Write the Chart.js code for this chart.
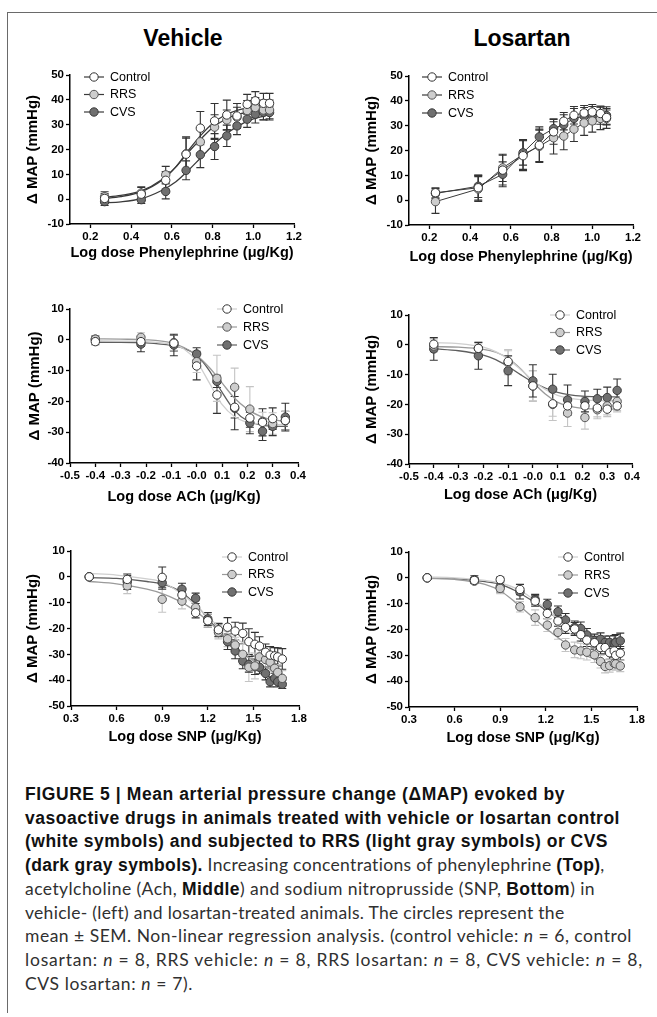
<!DOCTYPE html>
<html>
<head>
<meta charset="utf-8">
<script src="https://cdn.jsdelivr.net/npm/chart.js@4.4.1/dist/chart.umd.min.js"></script>
<style>
  html, body { margin: 0; padding: 0; background: #fff; width: 657px; height: 1017px; overflow: hidden; }
  body { position: relative; font-family: "Liberation Sans", Arial, sans-serif; }
  .frame { position: absolute; left: 7px; top: 12px; width: 700px; height: 1000px;
           border-top: 1.5px solid #6a6a6a; border-left: 1.5px solid #6a6a6a; }
  .head { position: absolute; top: 24px; width: 200px; text-align: center;
          font: bold 23px "Liberation Sans", Arial, sans-serif; color: #000; line-height: 28px; }
  canvas { position: absolute; }
  .cap { position: absolute; left: 25px; height: 24px; line-height: 24px; white-space: nowrap;
         font-family: "Lato", "Liberation Sans", sans-serif; font-weight: 400; font-size: 17.5px; color: #303030; }
  .cap b { font-family: "Liberation Sans", Arial, sans-serif; font-weight: bold; font-size: 17.5px; color: #111; }
  .cap i { font-style: italic; }
</style>
</head>
<body>
<div class="frame"></div>
<div class="head" style="left:83px">Vehicle</div>
<div class="head" style="left:422px">Losartan</div>

<canvas id="peVeh"></canvas>
<canvas id="peLos"></canvas>
<canvas id="achVeh"></canvas>
<canvas id="achLos"></canvas>
<canvas id="snpVeh"></canvas>
<canvas id="snpLos"></canvas>

<div class="cap" style="top:782px"><span><b>FIGURE 5 | Mean arterial pressure change (ΔMAP) evoked by</b></span></div>
<div class="cap" style="top:806px"><span><b>vasoactive drugs in animals treated with vehicle or losartan control</b></span></div>
<div class="cap" style="top:829px"><span><b>(white symbols) and subjected to RRS (light gray symbols) or CVS</b></span></div>
<div class="cap" style="top:853px"><span><b>(dark gray symbols).</b> Increasing concentrations of phenylephrine <b>(Top)</b>,</span></div>
<div class="cap" style="top:877px"><span>acetylcholine (Ach, <b>Middle</b>) and sodium nitroprusside (SNP, <b>Bottom</b>) in</span></div>
<div class="cap" style="top:901px"><span>vehicle- (left) and losartan-treated animals. The circles represent the</span></div>
<div class="cap" style="top:924px"><span>mean ± SEM. Non-linear regression analysis. (control vehicle: <i>n</i> = 6, control</span></div>
<div class="cap" style="top:948px"><span>losartan: <i>n</i> = 8, RRS vehicle: <i>n</i> = 8, RRS losartan: <i>n</i> = 8, CVS vehicle: <i>n</i> = 8,</span></div>
<div class="cap" style="top:972px"><span>CVS losartan: <i>n</i> = 7).</span></div>

<script>
// ---------- tick labels ----------
const peTicks = [0.2, 0.4, 0.6, 0.8, 1.0, 1.2];
const peTickLabels = ["0.2", "0.4", "0.6", "0.8", "1.0", "1.2"];
const achTicks = [-0.5, -0.4, -0.3, -0.2, -0.1, 0, 0.1, 0.2, 0.3, 0.4];
const achTickLabels = ["-0.5", "-0.4", "-0.3", "-0.2", "-0.1", "-0.0", "0.1", "0.2", "0.3", "0.4"];
const snpTicks = [0.3, 0.6, 0.9, 1.2, 1.5, 1.8];
const snpTickLabels = ["0.3", "0.6", "0.9", "1.2", "1.5", "1.8"];
const peYTicks = [-10, 0, 10, 20, 30, 40, 50];
const achYTicks = [-40, -30, -20, -10, 0, 10];
const snpYTicks = [-50, -40, -30, -20, -10, 0, 10];

// ---------- Phenylephrine, vehicle ----------
const peVehDose = [0.27, 0.45, 0.57, 0.67, 0.74, 0.81, 0.87, 0.92, 0.97, 1.01, 1.05, 1.08];
const peVehControl = [0.3, 2.0, 7.6, 18.1, 28.6, 31.5, 33.9, 33.5, 38.2, 39.6, 38.6, 38.6];
const peVehControlErr = [2.0, 2.7, 3.5, 6.5, 6.7, 7.0, 6.0, 5.0, 4.0, 3.7, 4.0, 4.0];
const peVehRRS = [1.0, 2.5, 9.8, 18.3, 23.1, 29.0, 31.9, 33.0, 35.7, 36.9, 35.9, 35.9];
const peVehRRSErr = [2.0, 2.5, 3.4, 6.8, 5.5, 5.0, 4.0, 4.0, 4.0, 4.0, 4.0, 4.0];
const peVehCVS = [-1.0, -0.2, 3.1, 11.6, 17.9, 21.2, 25.5, 29.5, 32.2, 34.2, 35.0, 34.9];
const peVehCVSErr = [1.5, 1.5, 3.0, 3.8, 5.2, 5.2, 4.3, 3.5, 3.3, 3.5, 3.0, 2.5];
const peVehFitX = [0.26, 0.35, 0.45, 0.55, 0.62, 0.68, 0.74, 0.80, 0.86, 0.92, 1.00, 1.08];
const peVehFitControl = [0.2, 1.0, 3.0, 7.5, 13.0, 19.5, 25.5, 30.5, 33.8, 35.8, 37.3, 37.9];
const peVehFitRRS = [0.7, 1.5, 3.3, 7.8, 13.0, 18.8, 24.0, 28.8, 32.0, 34.0, 35.5, 36.1];
const peVehFitCVS = [-1.5, -1.1, 0.2, 3.5, 7.0, 11.5, 16.5, 21.5, 25.8, 29.2, 32.3, 34.0];

// ---------- Phenylephrine, losartan ----------
const peLosDose = [0.23, 0.44, 0.56, 0.66, 0.74, 0.81, 0.86, 0.91, 0.96, 1.00, 1.04, 1.07];
const peLosControl = [3.0, 5.0, 12.1, 17.9, 22.1, 27.5, 31.8, 34.2, 35.1, 35.5, 34.9, 33.3];
const peLosControlErr = [2.0, 5.0, 6.0, 6.0, 6.5, 5.0, 3.5, 3.5, 3.0, 3.0, 3.0, 3.0];
const peLosRRS = [-0.6, 4.5, 13.0, 18.4, 21.7, 25.1, 25.8, 28.6, 31.1, 31.9, 32.9, 32.9];
const peLosRRSErr = [4.7, 5.0, 5.5, 6.0, 6.5, 6.5, 5.5, 5.0, 5.0, 4.5, 4.5, 4.0];
const peLosCVS = [2.7, 5.6, 10.4, 19.1, 25.5, 28.8, 30.4, 32.9, 33.8, 34.2, 34.1, 34.1];
const peLosCVSErr = [2.0, 4.5, 5.0, 5.0, 4.0, 4.0, 4.0, 4.0, 3.5, 3.5, 3.5, 3.5];

// ---------- Acetylcholine, vehicle ----------
const achVehDose = [-0.40, -0.22, -0.09, 0.0, 0.08, 0.15, 0.21, 0.26, 0.30, 0.35];
const achVehControl = [-0.6, -0.6, -1.1, -8.5, -17.9, -21.9, -25.4, -26.8, -25.6, -26.2];
const achVehControlErr = [1.0, 1.5, 2.5, 4.5, 6.0, 3.5, 3.0, 4.4, 3.5, 3.0];
const achVehRRS = [0.2, 0.8, -0.9, -7.1, -12.5, -15.4, -22.5, -26.5, -27.2, -26.3];
const achVehRRSErr = [1.0, 1.5, 2.5, 3.5, 7.5, 6.2, 7.3, 3.0, 3.5, 3.0];
const achVehCVS = [0.2, -1.4, -1.7, -4.6, -13.5, -22.2, -27.0, -29.7, -28.1, -25.1];
const achVehCVSErr = [1.0, 2.5, 3.5, 2.0, 2.0, 7.0, 3.5, 3.0, 3.0, 4.5];
const achVehFitX = [-0.4, -0.3, -0.2, -0.1, -0.05, 0.0, 0.05, 0.1, 0.15, 0.2, 0.25, 0.3, 0.36];
const achVehFitControl = [-0.3, -0.4, -0.6, -1.5, -3.0, -7.0, -14.0, -21.0, -25.0, -26.8, -27.3, -27.5, -27.6];
const achVehFitRRS = [0.3, 0.2, 0.0, -1.0, -2.5, -5.0, -9.0, -14.0, -19.0, -22.5, -24.8, -26.0, -26.5];
const achVehFitCVS = [-0.8, -0.8, -1.0, -1.8, -2.8, -5.0, -10.0, -17.0, -23.0, -26.3, -27.6, -28.0, -28.1];

// ---------- Acetylcholine, losartan ----------
const achLosDose = [-0.40, -0.22, -0.10, 0.0, 0.08, 0.14, 0.21, 0.26, 0.30, 0.34];
const achLosControl = [0.2, -1.2, -5.6, -13.8, -19.8, -20.5, -20.5, -21.2, -21.6, -20.5];
const achLosControlErr = [2.0, 1.5, 4.0, 5.0, 5.6, 3.0, 3.0, 3.0, 2.5, 2.0];
const achLosRRS = [-0.4, -1.2, -6.0, -13.8, -20.0, -22.9, -24.4, -21.8, -20.5, -19.0];
const achLosRRSErr = [2.0, 2.0, 4.0, 5.2, 4.0, 4.5, 3.9, 3.0, 3.0, 3.0];
const achLosCVS = [-1.4, -3.7, -8.7, -12.1, -14.9, -18.5, -19.0, -18.1, -17.7, -15.3];
const achLosCVSErr = [3.8, 4.5, 5.0, 5.4, 5.0, 5.0, 3.5, 3.2, 3.5, 3.8];
const achLosFitX = [-0.4, -0.3, -0.2, -0.15, -0.1, -0.05, 0.0, 0.05, 0.1, 0.15, 0.2, 0.27, 0.35];
const achLosFitControl = [0.7, 0.4, -0.8, -2.3, -4.8, -8.3, -12.0, -15.0, -17.0, -18.0, -18.5, -18.7, -18.8];
const achLosFitRRS = [-0.6, -0.8, -1.5, -2.5, -4.5, -8.0, -12.5, -16.5, -19.3, -20.7, -21.3, -21.5, -21.6];
const achLosFitCVS = [-1.3, -2.0, -3.5, -5.0, -7.3, -10.0, -12.5, -14.5, -16.0, -16.8, -17.2, -17.4, -17.5];

// ---------- SNP, vehicle ----------
const snpVehDose = [0.42, 0.67, 0.90, 1.03, 1.12, 1.20, 1.27, 1.33, 1.38, 1.43, 1.47, 1.51, 1.54, 1.58, 1.61, 1.64, 1.66, 1.69];
const snpVehControl = [0, -1.0, -0.2, -7.0, -13.9, -17.0, -20.5, -19.5, -21.0, -21.9, -25.1, -26.1, -26.8, -29.2, -30.3, -30.6, -31.0, -31.8];
const snpVehControlErr = [0.5, 1.5, 4.0, 2.5, 2.0, 2.5, 2.5, 3.7, 3.4, 4.0, 5.0, 4.6, 3.6, 3.2, 3.3, 3.2, 3.5, 4.0];
const snpVehRRS = [0, -3.5, -8.7, -9.4, -11.9, -17.0, -21.5, -24.0, -26.4, -30.0, -35.0, -34.5, -31.0, -32.0, -33.0, -35.4, -37.0, -39.3];
const snpVehRRSErr = [0.5, 3.0, 5.0, 3.0, 2.5, 2.5, 2.5, 3.0, 3.0, 4.0, 5.5, 5.0, 4.0, 3.5, 3.5, 3.0, 3.0, 3.0];
const snpVehCVS = [0, -1.9, -2.3, -4.8, -8.3, -16.3, -20.7, -25.1, -28.7, -32.6, -33.9, -34.8, -35.0, -37.4, -40.6, -39.3, -40.6, -41.6];
const snpVehCVSErr = [0.5, 3.0, 2.5, 2.3, 2.0, 2.5, 2.5, 3.0, 3.0, 3.0, 3.0, 3.0, 2.5, 2.5, 2.0, 2.0, 2.0, 1.6];
const snpVehFitX = [0.42, 0.6, 0.8, 0.9, 1.0, 1.1, 1.2, 1.3, 1.4, 1.5, 1.6, 1.69];
const snpVehFitControl = [1.3, 0.7, -0.8, -2.0, -5.5, -10.0, -15.5, -20.5, -24.5, -27.5, -29.3, -30.3];
const snpVehFitRRS = [-1.8, -2.7, -4.8, -6.5, -9.0, -12.5, -17.0, -22.5, -28.0, -32.5, -35.5, -37.5];
const snpVehFitCVS = [-0.3, -0.6, -1.8, -2.8, -5.0, -9.5, -16.0, -23.0, -30.0, -35.0, -38.5, -40.0];

// ---------- SNP, losartan ----------
const snpLosDose = [0.42, 0.73, 0.90, 1.03, 1.13, 1.21, 1.28, 1.33, 1.39, 1.43, 1.47, 1.52, 1.56, 1.59, 1.62, 1.65, 1.66, 1.69];
const snpLosControl = [0, -1.0, -0.7, -4.5, -9.0, -13.8, -16.7, -19.2, -19.8, -22.0, -24.1, -25.1, -27.0, -27.0, -29.0, -28.3, -30.0, -29.2];
const snpLosControlErr = [0.5, 1.0, 1.0, 2.0, 2.0, 2.0, 2.0, 2.3, 2.5, 2.5, 2.5, 2.5, 2.5, 2.5, 2.5, 2.5, 2.5, 2.6];
const snpLosRRS = [0, -1.3, -4.1, -11.2, -15.4, -18.3, -21.1, -26.0, -27.9, -28.3, -28.8, -29.8, -32.4, -34.3, -34.0, -33.1, -33.3, -34.1];
const snpLosRRSErr = [0.5, 1.0, 2.0, 2.0, 3.0, 2.5, 2.7, 2.5, 3.0, 3.0, 3.0, 3.0, 2.5, 2.5, 2.5, 2.5, 2.5, 2.2];
const snpLosCVS = [0, -0.7, -3.5, -5.4, -8.4, -10.3, -13.1, -16.3, -19.2, -19.6, -22.1, -24.3, -23.8, -25.0, -25.0, -25.3, -25.0, -24.4];
const snpLosCVSErr = [0.5, 1.5, 2.0, 2.8, 2.0, 2.0, 2.2, 2.5, 2.5, 2.5, 2.5, 2.5, 2.5, 2.5, 2.5, 3.0, 3.0, 3.0];
const snpLosFitX = [0.42, 0.6, 0.8, 0.9, 1.0, 1.1, 1.2, 1.3, 1.4, 1.5, 1.6, 1.69];
const snpLosFitControl = [0.3, 0.0, -1.0, -2.0, -4.0, -7.5, -12.0, -17.0, -21.5, -25.0, -27.5, -28.8];
const snpLosFitRRS = [-0.2, -0.6, -2.5, -5.0, -9.5, -14.5, -19.5, -24.0, -28.0, -31.0, -33.0, -34.0];
const snpLosFitCVS = [0.0, -0.3, -1.5, -2.5, -5.0, -8.5, -12.5, -16.5, -20.0, -22.5, -24.2, -25.0];

// ---------- look ----------
const FONT = '"Liberation Sans", Arial, sans-serif';
Chart.defaults.font.family = FONT;
Chart.defaults.color = "#000";

const groupNames = ["Control", "RRS", "CVS"];
const pointFill = { Control: "#ffffff", RRS: "#cdcdcd", CVS: "#707070" };
const pointEdge = { Control: "#333333", RRS: "#555555", CVS: "#3a3a3a" };
const fitColorGray = { Control: "#cfcfcf", RRS: "#9a9a9a", CVS: "#5e5e5e" };
const fitColorDark = { Control: "#3a3a3a", RRS: "#3a3a3a", CVS: "#3a3a3a" };

const pairs = (xs, ys) => xs.map((x, i) => ({ x: x, y: ys[i] }));

// error bars behind the symbols
const errorBars = {
    id: "errorBars",
    beforeDatasetsDraw(chart) {
        const ctx = chart.ctx;
        const xs = chart.scales.x, ys = chart.scales.y;
        const area = chart.chartArea;
        ctx.save();
        ctx.beginPath();
        ctx.rect(area.left - 6, area.top - 6, area.right - area.left + 12, area.bottom - area.top + 6);
        ctx.clip();
        chart.data.datasets.forEach((d) => {
            if (!d.err) return;
            ctx.strokeStyle = d.errColor;
            ctx.lineWidth = 1.1;
            d.data.forEach((p, j) => {
                const px = xs.getPixelForValue(p.x);
                const top = ys.getPixelForValue(p.y + d.err[j]);
                const bot = ys.getPixelForValue(p.y - d.err[j]);
                ctx.beginPath();
                ctx.moveTo(px, top); ctx.lineTo(px, bot);
                ctx.moveTo(px - 4, top); ctx.lineTo(px + 4, top);
                ctx.moveTo(px - 4, bot); ctx.lineTo(px + 4, bot);
                ctx.stroke();
            });
        });
        ctx.restore();
    },
};

// GraphPad style legend sitting inside the plot
const insetLegend = {
    id: "insetLegend",
    afterDraw(chart, args, o) {
        const ctx = chart.ctx, a = chart.chartArea;
        chart.data.datasets.filter((d) => d.legendLine).forEach((d, i) => {
            const cx = a.left + o.x, cy = a.top + o.y + i * o.gap;
            ctx.save();
            ctx.strokeStyle = d.legendLine;
            ctx.lineWidth = 1.2;
            ctx.beginPath(); ctx.moveTo(cx - 10, cy); ctx.lineTo(cx + 10, cy); ctx.stroke();
            ctx.beginPath(); ctx.arc(cx, cy, 4.2, 0, Math.PI * 2);
            ctx.fillStyle = d.pointBackgroundColor; ctx.fill();
            ctx.lineWidth = 1; ctx.strokeStyle = d.pointBorderColor; ctx.stroke();
            ctx.fillStyle = "#000";
            ctx.font = "12.5px " + FONT;
            ctx.textBaseline = "middle";
            ctx.fillText(d.label, cx + 16, cy + 0.5);
            ctx.restore();
        });
    },
};

function makePanel(p) {
    const YW = 60, TOP = 15, RIGHT = 20, XH = 48;
    const cv = document.getElementById(p.id);
    const w = p.box.right - p.box.left + YW + RIGHT;
    const h = p.box.bottom - p.box.top + TOP + XH;
    cv.width = w; cv.height = h;
    cv.style.left = (p.box.left - YW) + "px";
    cv.style.top = (p.box.top - TOP) + "px";
    cv.style.width = w + "px"; cv.style.height = h + "px";

    const datasets = [];
    groupNames.forEach((g, k) => {
        if (p.fitX) {
            datasets.push({
                label: g + " fit",
                data: pairs(p.fitX, p.fits[k]),
                showLine: true,
                borderColor: p.fitColors[g],
                borderWidth: 1.3,
                pointRadius: 0,
                cubicInterpolationMode: "monotone",
                order: 2,
            });
        }
    });
    groupNames.forEach((g, k) => {
        datasets.push({
            label: g,
            data: pairs(p.dose, p.means[k]),
            err: p.errs[k],
            errColor: p.errColors[k],
            legendLine: p.fitColors[g],
            showLine: !p.fitX,
            borderColor: p.fitColors[g],
            borderWidth: 1,
            pointRadius: 4.2,
            pointBorderWidth: 1,
            pointBackgroundColor: pointFill[g],
            pointBorderColor: pointEdge[g],
            order: 1,
        });
    });

    const tickFont = { size: 11.5, weight: "bold" };
    new Chart(cv, {
        type: "scatter",
        data: { datasets: datasets },
        plugins: [errorBars, insetLegend],
        options: {
            responsive: false,
            animation: false,
            events: [],
            layout: { padding: { left: 0, top: TOP, right: RIGHT, bottom: 0 } },
            plugins: {
                legend: { display: false },
                tooltip: { enabled: false },
                insetLegend: p.legend,
            },
            scales: {
                x: {
                    type: "linear",
                    min: p.xMin, max: p.xMax,
                    afterBuildTicks: (s) => { s.ticks = p.xTicks.map((v) => ({ value: v })); },
                    afterFit: (s) => { s.height = XH; },
                    ticks: {
                        autoSkip: false, maxRotation: 0, padding: 2, font: tickFont, color: "#000",
                        callback: (v, i) => p.xLabels[i],
                    },
                    grid: { drawOnChartArea: false, drawTicks: true, tickLength: 4, tickColor: "#000", tickWidth: 1.3 },
                    border: { color: "#000", width: 1.5 },
                    title: {
                        display: true, text: p.xTitle, color: "#000",
                        font: { size: 14.5, weight: "bold" },
                        padding: { top: 0, bottom: 39.3 - p.xTitleGap },
                    },
                },
                y: {
                    type: "linear",
                    min: p.yTicks[0], max: p.yTicks[p.yTicks.length - 1],
                    afterBuildTicks: (s) => { s.ticks = p.yTicks.map((v) => ({ value: v })); },
                    afterFit: (s) => { s.width = YW; },
                    ticks: { padding: 2, font: tickFont, color: "#000", callback: (v) => String(v) },
                    grid: { drawOnChartArea: false, drawTicks: true, tickLength: 4, tickColor: "#000", tickWidth: 1.3 },
                    border: { color: "#000", width: 1.5 },
                    title: {
                        display: true, text: "Δ MAP (mmHg)", color: "#000",
                        font: { size: 15, weight: "bold" },
                        padding: { top: YW - p.yTitleGap - 9, bottom: 0 },
                    },
                },
            },
        },
    });
}

const peTitle = "Log dose Phenylephrine (μg/Kg)";
const achTitle = "Log dose ACh (μg/Kg)";
const snpTitle = "Log dose SNP (μg/Kg)";

makePanel({
    id: "peVeh", box: { left: 70, right: 294, top: 75, bottom: 224 },
    xMin: 0.1, xMax: 1.2, xTicks: peTicks, xLabels: peTickLabels, yTicks: peYTicks,
    xTitle: peTitle, xTitleGap: 29, yTitleGap: 37,
    dose: peVehDose,
    means: [peVehControl, peVehRRS, peVehCVS],
    errs: [peVehControlErr, peVehRRSErr, peVehCVSErr],
    errColors: ["#333", "#333", "#333"],
    fitX: peVehFitX, fits: [peVehFitControl, peVehFitRRS, peVehFitCVS],
    fitColors: fitColorDark,
    legend: { x: 24, y: 2, gap: 17.5 },
});

makePanel({
    id: "peLos", box: { left: 409, right: 633, top: 76, bottom: 225 },
    xMin: 0.1, xMax: 1.2, xTicks: peTicks, xLabels: peTickLabels, yTicks: peYTicks,
    xTitle: peTitle, xTitleGap: 32, yTitleGap: 37,
    dose: peLosDose,
    means: [peLosControl, peLosRRS, peLosCVS],
    errs: [peLosControlErr, peLosRRSErr, peLosCVSErr],
    errColors: ["#333", "#333", "#333"],
    fitX: null, fits: null,
    fitColors: fitColorDark,
    legend: { x: 23, y: 1, gap: 18 },
});

makePanel({
    id: "achVeh", box: { left: 70, right: 298, top: 309, bottom: 463 },
    xMin: -0.5, xMax: 0.4, xTicks: achTicks, xLabels: achTickLabels, yTicks: achYTicks,
    xTitle: achTitle, xTitleGap: 34, yTitleGap: 35,
    dose: achVehDose,
    means: [achVehControl, achVehRRS, achVehCVS],
    errs: [achVehControlErr, achVehRRSErr, achVehCVSErr],
    errColors: ["#333", "#c4c4c4", "#333"],
    fitX: achVehFitX, fits: [achVehFitControl, achVehFitRRS, achVehFitCVS],
    fitColors: fitColorGray,
    legend: { x: 157, y: 0, gap: 18 },
});

makePanel({
    id: "achLos", box: { left: 409, right: 632, top: 315, bottom: 464 },
    xMin: -0.5, xMax: 0.4, xTicks: achTicks, xLabels: achTickLabels, yTicks: achYTicks,
    xTitle: achTitle, xTitleGap: 31, yTitleGap: 37,
    dose: achLosDose,
    means: [achLosControl, achLosRRS, achLosCVS],
    errs: [achLosControlErr, achLosRRSErr, achLosCVSErr],
    errColors: ["#c4c4c4", "#c4c4c4", "#333"],
    fitX: achLosFitX, fits: [achLosFitControl, achLosFitRRS, achLosFitCVS],
    fitColors: fitColorGray,
    legend: { x: 151, y: 0, gap: 17.5 },
});

makePanel({
    id: "snpVeh", box: { left: 71, right: 299, top: 551, bottom: 706 },
    xMin: 0.3, xMax: 1.8, xTicks: snpTicks, xLabels: snpTickLabels, yTicks: snpYTicks,
    xTitle: snpTitle, xTitleGap: 31, yTitleGap: 38,
    dose: snpVehDose,
    means: [snpVehControl, snpVehRRS, snpVehCVS],
    errs: [snpVehControlErr, snpVehRRSErr, snpVehCVSErr],
    errColors: ["#333", "#c4c4c4", "#333"],
    fitX: snpVehFitX, fits: [snpVehFitControl, snpVehFitRRS, snpVehFitCVS],
    fitColors: fitColorGray,
    legend: { x: 161, y: 6, gap: 17.5 },
});

makePanel({
    id: "snpLos", box: { left: 409, right: 637, top: 552, bottom: 707 },
    xMin: 0.3, xMax: 1.8, xTicks: snpTicks, xLabels: snpTickLabels, yTicks: snpYTicks,
    xTitle: snpTitle, xTitleGap: 31, yTitleGap: 37,
    dose: snpLosDose,
    means: [snpLosControl, snpLosRRS, snpLosCVS],
    errs: [snpLosControlErr, snpLosRRSErr, snpLosCVSErr],
    errColors: ["#333", "#c4c4c4", "#333"],
    fitX: snpLosFitX, fits: [snpLosFitControl, snpLosFitRRS, snpLosFitCVS],
    fitColors: fitColorGray,
    legend: { x: 159, y: 5, gap: 18 },
});

// stretch each caption line to the width it has in the figure
const captionRight = [565, 620, 608, 605, 595, 564, 632, 643, 193];
document.querySelectorAll(".cap span").forEach((el, i) => {
    const w = el.getBoundingClientRect().width;
    const n = el.textContent.length;
    el.style.letterSpacing = ((captionRight[i] - 25 - w) / n).toFixed(3) + "px";
});
</script>
</body>
</html>
